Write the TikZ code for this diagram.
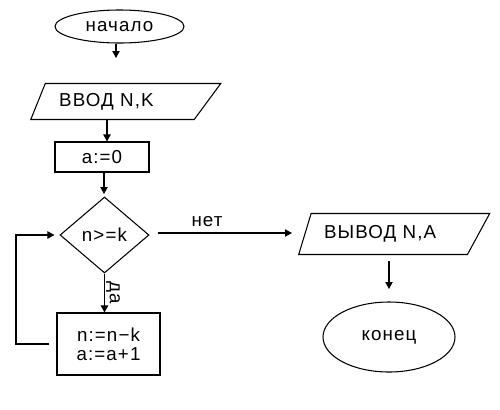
\documentclass[tikz,border=0pt]{standalone}
\usepackage{fontspec}
\setmainfont{Liberation Sans}[LetterSpace=6]
\usetikzlibrary{arrows.meta,shapes.geometric}
\tikzset{
  termbox/.style={ellipse,draw,inner sep=0pt},
  iobox/.style={trapezium,draw,trapezium stretches body,inner sep=2pt},
  opbox/.style={rectangle,draw,inner sep=0pt,align=center},
  testbox/.style={diamond,draw,inner sep=0pt},
  flowArrow/.style={-{Triangle[length=2.1mm,width=2.2mm]}}
}

\begin{document}
\begin{tikzpicture}[x=0.03cm,y=-0.03cm,line width=0.9pt,font=\fontsize{16}{16.5}\selectfont]
  \useasboundingbox (0,0) rectangle (500,409);
  \node[termbox,minimum width=3.87cm,minimum height=0.99cm] (start) at (119.5,26.5) {начало};
  \node[iobox,trapezium left angle=56,trapezium right angle=141,minimum width=5.7cm,minimum height=1.08cm,anchor=bottom left corner] (in) at (30,120) {ВВОД N,K\hspace*{0.8cm}};
  \node[opbox,minimum width=2.82cm,minimum height=0.9cm] (init) at (102,157) {a:=0};
  \node[testbox,minimum width=2.67cm,minimum height=2.28cm] (cond) at (104.5,235) {n>=k};
  \node[opbox,minimum width=3.09cm,minimum height=1.86cm] (body) at (108.5,344) {n:=n−k\\a:=a+1};
  \node[iobox,trapezium left angle=60,trapezium right angle=136,minimum width=5.73cm,minimum height=1.23cm,anchor=bottom left corner] (out) at (298,255) {ВЫВОД N,A\hspace*{0.55cm}};
  \node[termbox,minimum width=3.96cm,minimum height=2.1cm] (stop) at (389,337) {конец};

  % free ends of the connectors
  \coordinate (t1) at (116,58);
  \coordinate (t2) at (107,0);
  \coordinate (t3) at (104,194);
  \coordinate (t4) at (292,233);
  \coordinate (t7) at (389,289);
  \coordinate (loopx) at (16,0);

  \draw[flowArrow] (start.south -| t1) -- (t1);
  \draw[flowArrow] (in.south -| t2) -- (init.north -| t2);
  \draw[flowArrow] (init.south -| t3) -- (t3);
  \draw[flowArrow,shorten <=0.24cm] (cond.east |- t4) -- (t4);
  \node (no) at (207,222) {нет};
  \draw[flowArrow] (cond.south) -- (cond.south |- body.north)
    node[midway,anchor=south,rotate=-90,inner sep=1pt] (yes) {да};
  \draw[flowArrow,shorten <=0.21cm,shorten >=0.15cm] (body.west) -- (body.west -| loopx) |- (cond.west);
  \draw[flowArrow,shorten <=0.18cm] (out.south -| t7) -- (t7);
\end{tikzpicture}
\end{document}
